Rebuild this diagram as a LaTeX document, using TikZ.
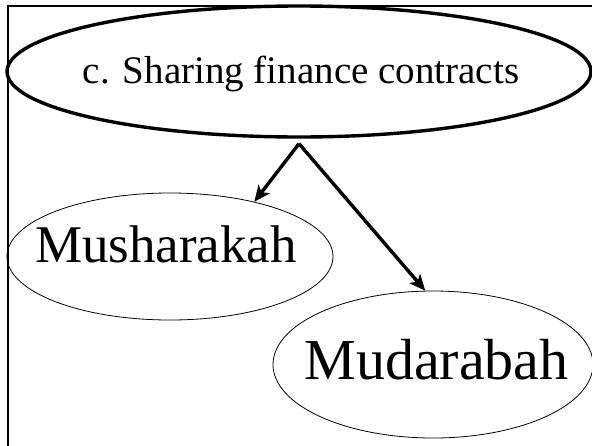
\documentclass[tikz,border=0pt]{standalone}
\usepackage{fontspec}
\setmainfont{Liberation Serif}
\usetikzlibrary{shapes.geometric,arrows.meta}

\begin{document}
\begin{tikzpicture}[
  x=1pt, y=-1pt,
  rootell/.style={draw, ellipse, line width=3.4pt, inner sep=0pt,
                  minimum width=584pt, minimum height=131pt},
  leafell/.style={draw, ellipse, line width=0.8pt, inner sep=0pt},
  roottxt/.style={anchor=base, inner sep=0pt, font=\fontsize{39}{45}\selectfont},
  leaftxt/.style={anchor=base, inner sep=0pt},
  frame/.style={line width=1.6pt},
  branch/.style={-{Stealth[length=16pt, width=14pt, inset=4pt]}, line width=3.4pt},
]
\path[use as bounding box, clip] (0,0) rectangle (592,445);

% outer frame (runs past the right and bottom edges)
\draw[frame] (8,460) |- (610,6);

% Level 0: contract family
\node[rootell] (share) at (299,71.5) {};
\node[roottxt] (sharetxt) at (301,83) {c. Sharing finance contracts};

% Level 1: the two contracts
\node[leafell, minimum width=326pt, minimum height=127pt] (mush) at (170,256.5) {};
\node[leaftxt, font=\fontsize{53}{60}\selectfont] (mushtxt) at (166,262) {Musharakah};

\node[leafell, minimum width=320pt, minimum height=147pt] (mud) at (433,364.5) {};
\node[leaftxt, font=\fontsize{58}{66}\selectfont] (mudtxt) at (436.5,379) {Mudarabah};

% branches
\coordinate (fork) at ([yshift=-5pt]share.south);
\draw[branch] (fork) -- (mush.33);
\draw[branch] (fork) -- (mud.96);

\end{tikzpicture}
\end{document}
